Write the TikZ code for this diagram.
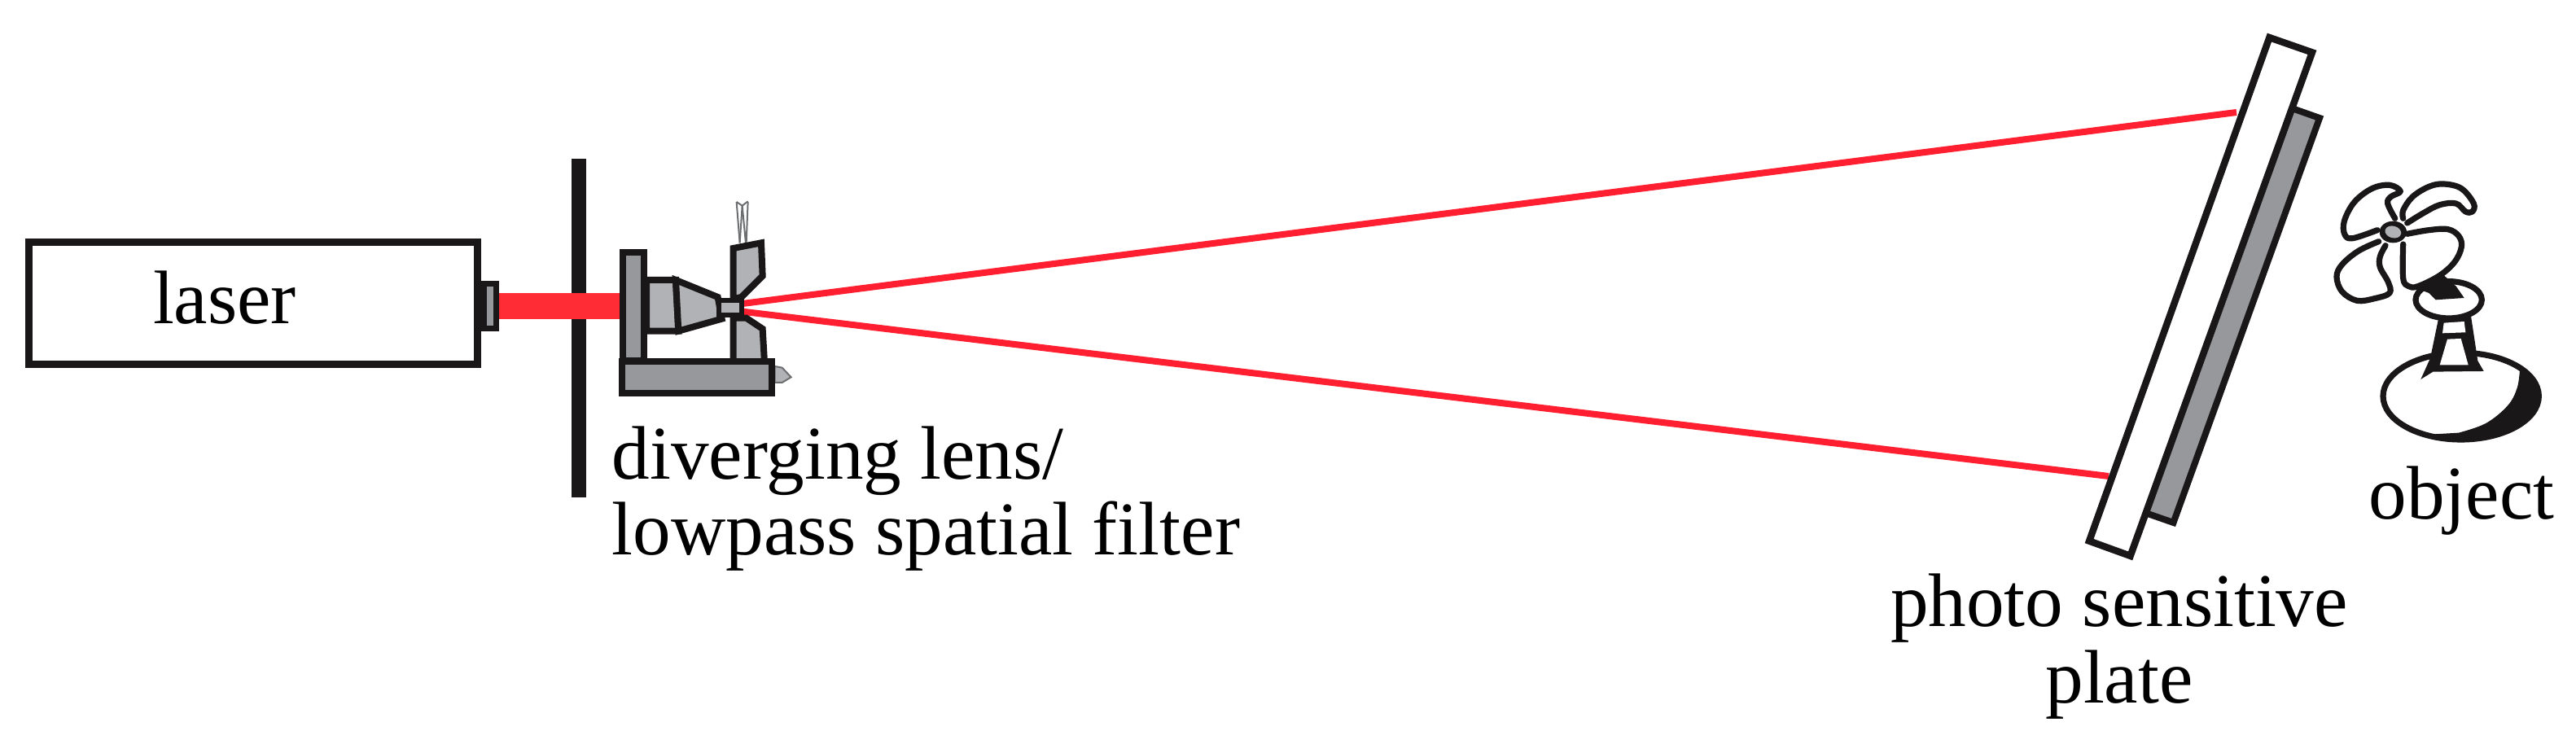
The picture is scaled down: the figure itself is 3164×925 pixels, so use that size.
\documentclass[tikz,border=0pt]{standalone}
\usepackage{xcolor}
\usepackage{fontspec}
\setmainfont{Liberation Serif}
\usetikzlibrary{
    calc,
    positioning
}
\definecolor{inkblack}{HTML}{1A1718}
\definecolor{beamred}{HTML}{FF2B35}
\definecolor{rayred}{HTML}{FF1F30}
\definecolor{partgrey}{HTML}{97989B}
\definecolor{lensgrey}{HTML}{B0B2B5}
\definecolor{pingrey}{HTML}{6D6E70}
\tikzset{
    part/.style={draw=inkblack, line width=0.08cm, fill=partgrey, line join=miter},
    lenspart/.style={part, fill=lensgrey},
    whitepart/.style={part, line width=0.085cm, fill=white},
    ray/.style={rayred, line width=0.08cm},
    pin/.style={draw=pingrey, line width=0.02cm},
    sketch/.style={draw=inkblack, line width=0.072cm, line cap=round, line join=round},
    blob/.style={fill=inkblack, draw=none},
    caption/.style={inner sep=0pt, align=center, font=\fontsize{26.5}{26.45}\selectfont}
}

\begin{document}
\begin{tikzpicture}[x=0.01cm, y=-0.01cm]
                        \useasboundingbox (0, 0) rectangle (3164, 925);

                        \node[draw=inkblack, line width=0.09cm, minimum width=5.5cm, minimum height=1.49cm, inner sep=0pt] (laser) at (311, 372.5) {};
                        \node[part, line width=0.07cm, minimum width=0.15cm, minimum height=0.55cm, inner sep=0pt] (nozzle) at (602, 376) {};
                        \node[blob, minimum width=0.18cm, minimum height=4.16cm, inner sep=0pt] (stop) at (710.5, 403) {};
                        \node[caption, anchor=base] (laserlabel) at (276, 398) {laser};

                        \coordinate (focus) at (873, 378);
                        \coordinate (hitup) at (2747, 138);
                        \coordinate (hitlow) at (2590, 585);
                        \draw[ray] (focus) -- (hitup);
                        \draw[ray] (focus) -- (hitlow);

                        \node[part, minimum width=0.26cm, minimum height=1.33cm, inner sep=0pt] (holder) at (778, 376.5) {};
                        \draw[beamred, line width=0.32cm] (nozzle.east) -- (nozzle.east -| holder.west);

                        \begin{scope}[shift={(670, 270)}, scale=0.3333]
                            \draw[pin] (704, -66) -- (716, 85);
                            \draw[pin] (746, -66) -- (740, 85);
                            \draw[pin] (704, -66) -- (725, -52) -- (746, -68);
                            \draw[pin] (725, -52) -- (738, 85);
                            \draw[pin] (725, -52) -- (716, 85);
                            \draw[pin, fill=lensgrey] (845, 540) -- (872, 545) -- (905, 580) -- (872, 600) -- (845, 600) -- cycle;
                            \draw[lenspart] (372, 222) -- (480, 222) -- (490, 410) -- (372, 410) -- cycle;
                            \draw[lenspart] (480, 222) -- (635, 285) -- (650, 365) -- (490, 410) -- cycle;
                            \draw[lenspart] (692, 105) -- (795, 85) -- (800, 207) -- (722, 285) -- (692, 292) -- cycle;
                            \draw[lenspart] (692, 362) -- (740, 362) -- (800, 402) -- (807, 525) -- (692, 525) -- cycle;
                            \draw[lenspart, line width=0.06cm] (640, 298) rectangle (722, 350);
                        \end{scope}

                        \node[part, minimum width=1.84cm, minimum height=0.39cm, inner sep=0pt] (bench) at (856, 463.5) {};
                        \begin{scope}[shift={(670, 270)}, scale=0.3333]
                            \draw[inkblack, line width=0.07cm] (692, 525) -- (807, 525);
                        \end{scope}

                        \node[caption, anchor=base west, align=left] (filterlabel) at (751, 682) {diverging lens/\\lowpass spatial filter};

                        \coordinate (plateA) at (2815, 133);
                        \coordinate (plateB) at (2849, 145);
                        \coordinate (plateC) at (2669.5, 642);
                        \coordinate (plateD) at (2635, 630);
                        \draw[part] (plateA) -- (plateB) -- (plateC) -- (plateD) -- cycle;
                        \draw[whitepart] (2787.4, 46.1) -- (2839.9, 64.4) -- (2616.6, 682.9) -- (2566.1, 664.6) -- cycle;
                        \node[caption, anchor=base] (platelabel) at (2603, 863) {photo sensitive\\plate};

                        \begin{scope}[shift={(2820, 200)}, scale=0.3333]
                            \draw[sketch, fill=white] (608, 860) ellipse (287 and 160);
                            \fill[inkblack] plot[smooth, tension=0.6] coordinates {(825, 762) (870, 810) (895, 860) (880, 920) (820, 975) (720, 1010) (600, 1022) (480, 1002)}
                                -- plot[smooth, tension=0.6] coordinates {(600, 995) (700, 960) (780, 895) (815, 830) (825, 762)} -- cycle;
                            \draw[sketch, fill=white] (563, 505) ellipse (122 and 68);
                            \fill[blob] (545, 415) -- (450, 465) -- (490, 480) -- (515, 505) -- (620, 498) -- (590, 455) -- (565, 432) -- cycle;
                            \fill[blob] (525, 575) -- (495, 720) -- (460, 798) -- (505, 770) -- (692, 768) -- (670, 730) -- (645, 565) -- cycle;
                            \fill[white] (545, 590) -- (620, 585) -- (625, 625) -- (540, 628) -- cycle;
                            \fill[white] (558, 650) -- (608, 648) -- (635, 745) -- (530, 745) -- cycle;
                            \draw[sketch] plot[smooth, tension=0.6] coordinates {(365, 205) (338, 150) (350, 125) (385, 105) (345, 82) (280, 95) (215, 145) (178, 215) (180, 265) (210, 278) (300, 248)};
                            \draw[sketch] plot[smooth, tension=0.6] coordinates {(395, 205) (395, 175) (430, 125) (490, 88) (545, 78) (610, 95) (655, 150) (650, 180) (625, 180) (590, 150) (530, 155) (470, 185) (410, 222)};
                            \draw[sketch] plot[smooth, tension=0.6] coordinates {(410, 262) (490, 248) (560, 245) (600, 270) (610, 310) (585, 365) (530, 415) (450, 455) (415, 455) (395, 425) (395, 300)};
                            \draw[sketch] plot[smooth, tension=0.6] coordinates {(305, 290) (230, 325) (170, 375) (150, 420) (170, 475) (225, 508) (290, 500) (345, 480) (340, 440) (310, 385) (310, 345) (330, 305)};
                            \fill[blob] (358, 255) ellipse (50 and 40);
                            \fill[lensgrey, rotate around={-15:(358, 255)}] (358, 255) ellipse (30 and 22);
                        \end{scope}
                        \node[caption, anchor=base west] (objectlabel) at (2909, 638) {object};
                    \end{tikzpicture}
\end{document}
